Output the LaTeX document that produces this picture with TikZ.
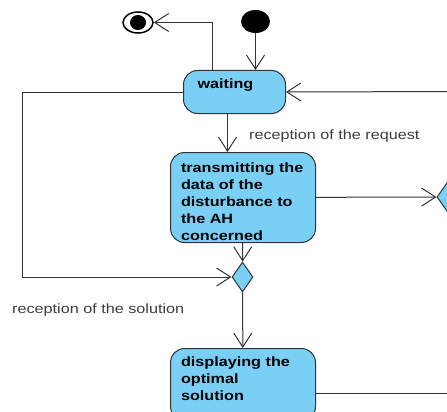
\documentclass[tikz,border=0pt]{standalone}
\usepackage{fontspec}
\setmainfont{Liberation Sans}[FakeStretch=1.2]
\usetikzlibrary{shapes.geometric, arrows.meta, positioning}
\definecolor{statecolor}{RGB}{122,207,245}
\definecolor{linecolor}{RGB}{51,51,51}
\definecolor{guardcolor}{RGB}{60,60,60}

\begin{document}
\begin{tikzpicture}[
    x=1pt, y=-1pt,
    state/.style={draw=linecolor, line width=1pt, fill=statecolor, rounded corners=14pt, inner xsep=10.5pt, inner ysep=0pt, text width=124pt, align=left, anchor=north west, font=\fontsize{13.5}{17}\selectfont\bfseries},
    decision/.style={draw=linecolor, line width=1pt, fill=statecolor, diamond, inner sep=0pt, minimum width=21pt, minimum height=30pt},
    initial/.style={ellipse, fill=black, inner sep=0pt, minimum width=29pt, minimum height=23pt},
    final/.style={ellipse, draw=black, line width=1.5pt, inner sep=0pt, minimum width=30pt, minimum height=21pt, path picture={\fill[black] (path picture bounding box.center) ellipse [x radius=8pt, y radius=7.5pt];}},
    flow/.style={draw=linecolor, line width=1pt, -{Straight Barb[length=14pt, width=18pt]}},
    wire/.style={draw=linecolor, line width=1pt},
    guard/.style={text=guardcolor, inner sep=0pt, anchor=base west, font=\fontsize{13.5}{17}\selectfont}
]
    \useasboundingbox (0,0) rectangle (447,412);
    \clip (0,0) rectangle (447,412);

    % start and end
    \node[initial] (start) at (255.5,21.5) {};
    \node[final] (stop) at (138,22.5) {};

    % states
    \node[state, text width=74pt, inner xsep=14pt, text height=18pt, text depth=25pt] (waiting) at (183,70) {waiting};
    \node[state, text height=20pt, text depth=70pt] (trans) at (170,152) {transmitting the\\data of the\\disturbance to\\the AH\\concerned};
    \node[state, text height=18pt, text depth=54pt] (display) at (170,348) {displaying the\\optimal\\solution};

    % decisions
    \node[decision] (merge) at (242.5,277) {};
    \node[decision] (farright) at (447.5,197) {};

    % guards
    \node[guard] (reqguard) at (249,139) {reception of the request};
    \node[guard] (solguard) at (12,313) {reception of the solution};

    % free ends
    \coordinate (backin) at (460,91.5);
    \coordinate (loopcorner) at (22,277);
    \coordinate (stopturn) at ([xshift=-22pt]waiting.north);
    \coordinate (reqtop) at ([xshift=-7pt]waiting.south);
    \coordinate (dispout) at (460,393);

    % connections
    \draw[flow] (start) -- (start |- waiting.north);
    \draw[flow] (stopturn) |- (stop);
    \draw[flow] (backin) -- (waiting.east);
    \draw[flow] (reqtop) -- (reqtop |- trans.north);
    \draw[flow] (waiting.west) -| (loopcorner) -- (merge.west);
    \draw[flow] (trans) -- (merge);
    \draw[flow] (trans) -- (farright);
    \draw[flow] (merge) -- (display);
    \draw[wire] (display.east |- dispout) -- (dispout);
\end{tikzpicture}
\end{document}
